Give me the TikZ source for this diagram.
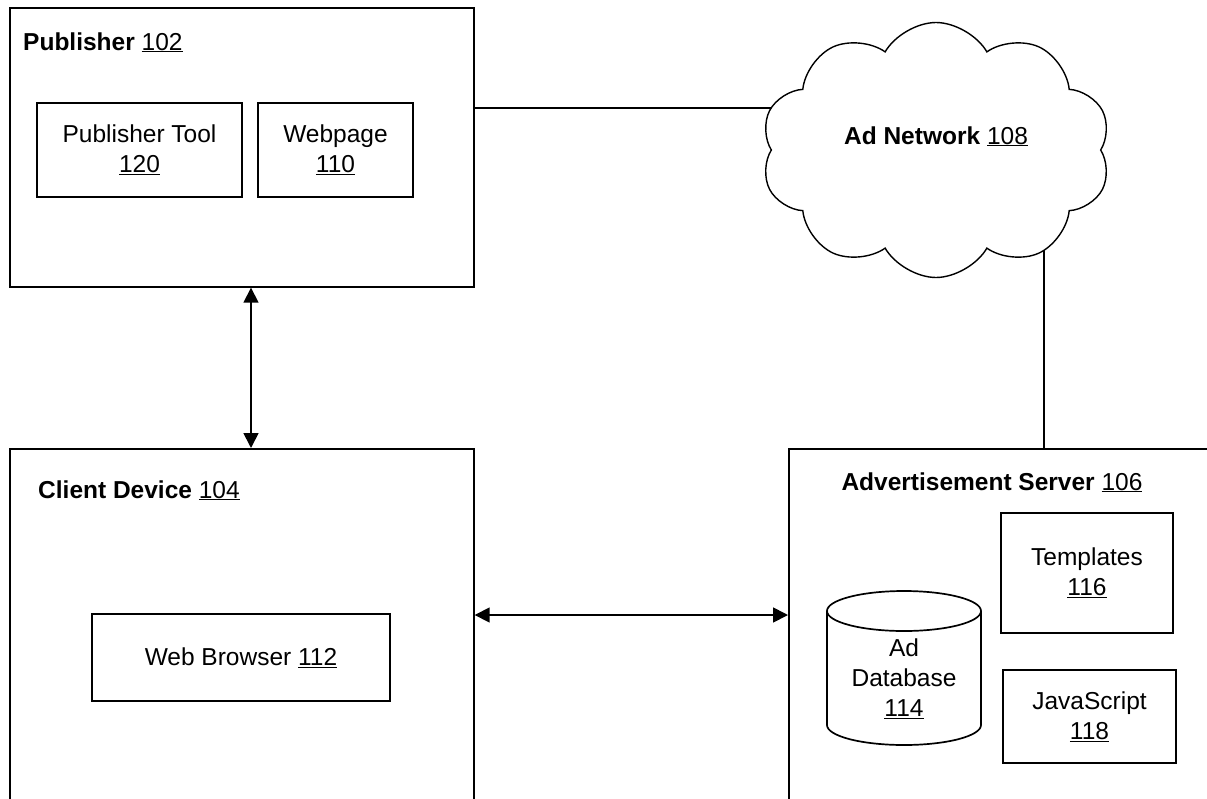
\documentclass[tikz,border=0pt]{standalone}
\usepackage{fontspec}
\setmainfont{Liberation Sans}
\usetikzlibrary{arrows.meta,shapes.symbols}
\pgfdeclarelayer{background}
\pgfsetlayers{background,main}
\begin{document}
\begin{tikzpicture}[x=1pt,y=1pt,
  every node/.style={font=\fontsize{24.5}{30}\selectfont},
  box/.style={draw,line width=1.7pt,inner sep=0pt,anchor=north west},
  inbox/.style={draw,line width=1.7pt,inner sep=0pt,align=center},
  conn/.style={line width=1.7pt},
  arr/.style={line width=1.7pt,{Triangle[length=15pt,width=15pt]}-{Triangle[length=15pt,width=15pt]}},
  lbl/.style={inner sep=0pt,anchor=base west}]
\useasboundingbox (0,0) rectangle (1207,-798);
\clip (0,0) rectangle (1207,-798);
% main boxes
\node[box,minimum width=464pt,minimum height=279pt] (pub) at (9,-7) {};
\node[box,minimum width=464pt,minimum height=420pt] (client) at (9,-448) {};
\node[box,minimum width=430pt,minimum height=420pt] (server) at (788,-448) {};
% cloud
\node[cloud,draw,fill=white,line width=1.4pt,cloud puffs=10,cloud puff arc=120,aspect=1.37,
      minimum width=350pt,minimum height=255pt,inner sep=0pt] (cloud) at (936,-150) {};
\node[inner sep=0pt,anchor=base] (netlbl) at (936,-144) {\textbf{Ad Network} \underline{108}};
% labels
\node[lbl] (publbl) at (23,-50) {\textbf{Publisher} \underline{102}};
\node[lbl] (clientlbl) at (38,-498) {\textbf{Client Device} \underline{104}};
\node[inner sep=0pt,anchor=base] (serverlbl) at (992,-490) {\textbf{Advertisement Server} \underline{106}};
% inner boxes
\node[inbox,minimum width=205pt,minimum height=94pt] (tool) at (139.5,-150) {Publisher Tool\\\underline{120}};
\node[inbox,minimum width=155pt,minimum height=94pt] (web) at (335.5,-150) {Webpage\\\underline{110}};
\node[inbox,minimum width=298pt,minimum height=87pt] (browser) at (241,-657.5) {Web Browser \underline{112}};
\node[inbox,minimum width=172pt,minimum height=120pt] (tmpl) at (1087,-573) {Templates\\\underline{116}};
\node[inbox,minimum width=173pt,minimum height=93pt] (js) at (1089.5,-716.5) {JavaScript\\\underline{118}};
% database cylinder
\draw[line width=1.7pt] (827,-611) -- (827,-725) arc[start angle=180,end angle=360,x radius=77,y radius=20] -- (981,-611);
\draw[line width=1.7pt] (904,-611) ellipse [x radius=77,y radius=20];
\node[inner sep=0pt,align=center] (db) at (904,-679) {Ad\\Database\\\underline{114}};
% connectors
\coordinate (ly) at (0,-108);
\coordinate (lx) at (1044,0);
\coordinate (vx) at (251,0);
\coordinate (hy) at (0,-615);
\begin{pgfonlayer}{background}
\draw[conn] (pub.east |- ly) -- (cloud.center |- ly);
\draw[conn] (server.north -| lx) -- (cloud.center -| lx);
\end{pgfonlayer}
\draw[arr] (pub.south -| vx) -- (client.north -| vx);
\draw[arr] (client.east |- hy) -- (server.west |- hy);
\end{tikzpicture}
\end{document}
